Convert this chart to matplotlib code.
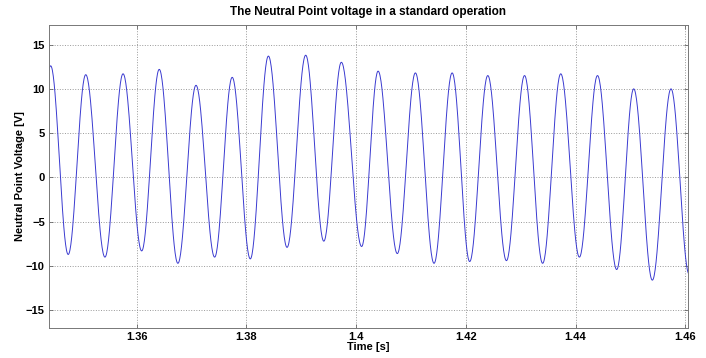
import numpy as np
import matplotlib
matplotlib.use("Agg")
import matplotlib.pyplot as plt

plt.rcParams['font.family'] = ['Liberation Sans', 'DejaVu Sans']

# Alternating extrema (troughs and peaks) of the neutral point voltage
extrema_time = [1.3410, 1.3443, 1.3475, 1.3507, 1.3542, 1.3575, 1.3609, 1.3641,
                1.3675, 1.3708, 1.3742, 1.3774, 1.3807, 1.3840, 1.3874, 1.3908,
                1.3941, 1.3973, 1.4010, 1.4040, 1.4075, 1.4108, 1.4142, 1.4175,
                1.4207, 1.4240, 1.4274, 1.4307, 1.4340, 1.4373, 1.4407, 1.4440,
                1.4475, 1.4506, 1.4540, 1.4574, 1.4607, 1.4640]
extrema_volt = [-8.6, 12.6, -8.7, 11.6, -9.0, 11.7, -8.3, 12.2,
                -9.7, 10.4, -9.0, 11.3, -9.2, 13.7, -7.9, 13.8,
                -7.2, 13.0, -7.8, 12.0, -8.6, 11.8, -9.7, 11.8,
                -9.5, 11.5, -9.4, 11.5, -9.7, 11.7, -9.0, 11.5,
                -10.4, 10.0, -11.6, 10.0, -10.9, 10.0]

x_ticks = [1.36, 1.38, 1.40, 1.42, 1.44, 1.46]
x_tick_labels = ['1.36', '1.38', '1.4', '1.42', '1.44', '1.46']
y_ticks = [-15, -10, -5, 0, 5, 10, 15]

# Half-cosine segments between consecutive extrema
t_parts, v_parts = [], []
for (t0, t1), (v0, v1) in zip(zip(extrema_time[:-1], extrema_time[1:]),
                              zip(extrema_volt[:-1], extrema_volt[1:])):
    s = np.linspace(0, 1, 40, endpoint=False)
    t_parts.append(t0 + (t1 - t0) * s)
    v_parts.append(v0 + (v1 - v0) * (1 - np.cos(np.pi * s)) / 2)
t = np.concatenate(t_parts)
v = np.concatenate(v_parts)

fig = plt.figure(figsize=(7.06, 3.58), dpi=100)
ax = fig.add_axes([0.0694, 0.0838, 0.9051, 0.8462])

ax.plot(t, v, color='#3a3ad0', lw=0.7)

ax.set_xlim(1.344, 1.4605)
ax.set_ylim(-17, 17.2)
ax.set_xticks(x_ticks)
ax.set_xticklabels(x_tick_labels)
ax.set_yticks(y_ticks)

ax.grid(True, linestyle=':', color='#999999', lw=0.7)
for sp in ax.spines.values():
    sp.set_color('#777777')
    sp.set_linewidth(0.7)
ax.tick_params(direction='in', length=3, width=0.6, color='#666666',
               top=True, right=True, labelsize=8, pad=3)
for lab in ax.get_xticklabels() + ax.get_yticklabels():
    lab.set_fontweight('bold')

ax.set_title('The Neutral Point voltage in a standard operation',
             fontsize=8.5, fontweight='bold', pad=7)
ax.set_xlabel('Time [s]', fontsize=8, fontweight='bold', labelpad=0)
ax.set_ylabel('Neutral Point Voltage [V]', fontsize=8, fontweight='bold', labelpad=1)

fig.savefig('out.png', dpi=100, facecolor='white')
